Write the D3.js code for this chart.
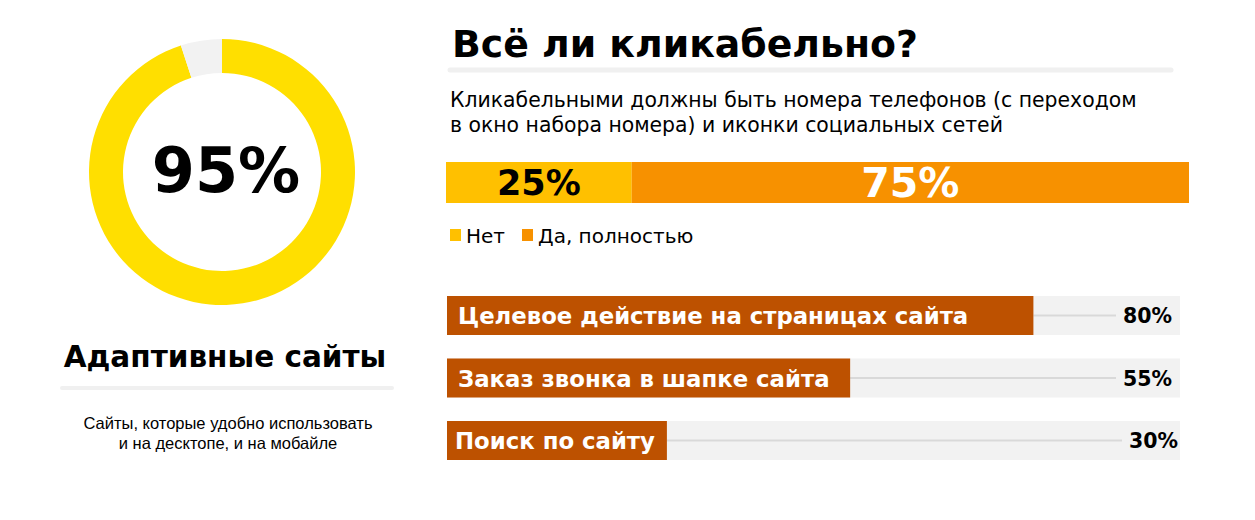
<!DOCTYPE html>
<html>
<head>
<meta charset="utf-8">
<script src="https://cdn.jsdelivr.net/npm/d3@7"></script>
<style>
  body { margin: 0; background: #fff; }
  svg text { font-family: "DejaVu Sans", sans-serif; }
</style>
</head>
<body>
<div id="chart"></div>
<script>
// data
var donutValue = 95;
var donutTitle = "Адаптивные сайты";
var donutNote = ["Сайты, которые удобно использовать", "и на десктопе, и на мобайле"];

var mainTitle = "Всё ли кликабельно?";
var subtitle = ["Кликабельными должны быть номера телефонов (с переходом", "в окно набора номера) и иконки социальных сетей"];

var stackKeys = ["Нет", "Да, полностью"];
var stackValues = [25, 75];
var stackColors = ["#ffc000", "#f79100"];
var stackTextColors = ["#000", "#fff"];
var stackFontSizes = [35, 41];

var barLabels = ["Целевое действие на страницах сайта", "Заказ звонка в шапке сайта", "Поиск по сайту"];
var barValues = [80, 55, 30];

var width = 1255, height = 520;

var svg = d3.select("#chart").append("svg")
  .attr("width", width)
  .attr("height", height);

// ---- donut ----
var cx = 222, cy = 172;
var outerR = 133, innerR = 99;

var pie = d3.pie().sort(null).value(function(d){ return d; });
var arc = d3.arc().innerRadius(innerR).outerRadius(outerR);

var donut = svg.append("g")
  .attr("transform", "translate(" + cx + "," + cy + ")");

donut.selectAll("path")
  .data(pie([donutValue, 100 - donutValue]))
  .enter().append("path")
  .attr("d", arc)
  .attr("fill", function(d, i){ return i === 0 ? "#ffdf00" : "#f2f2f2"; });

donut.append("text")
  .attr("x", 4)
  .attr("y", 20)
  .attr("text-anchor", "middle")
  .attr("font-size", 62)
  .attr("font-weight", "bold")
  .text(donutValue + "%");

svg.append("text")
  .attr("x", 225)
  .attr("y", 367)
  .attr("text-anchor", "middle")
  .attr("font-size", 29.5)
  .attr("font-weight", "bold")
  .text(donutTitle);

svg.append("line")
  .attr("x1", 62).attr("x2", 392)
  .attr("y1", 388).attr("y2", 388)
  .attr("stroke", "#f0f0f0")
  .attr("stroke-width", 4)
  .attr("stroke-linecap", "round");

svg.append("text")
  .attr("text-anchor", "middle")
  .style("font-family", "'Liberation Sans', Arial, sans-serif")
  .attr("font-size", 16.5)
  .selectAll("tspan")
  .data(donutNote)
  .enter().append("tspan")
  .attr("x", 228)
  .attr("y", function(d, i){ return 429 + i * 20; })
  .text(function(d){ return d; });

// ---- right side header ----
svg.append("text")
  .attr("x", 452)
  .attr("y", 57)
  .attr("font-size", 37.8)
  .attr("font-weight", "bold")
  .text(mainTitle);

svg.append("line")
  .attr("x1", 450).attr("x2", 1171)
  .attr("y1", 70).attr("y2", 70)
  .attr("stroke", "#f0f0f0")
  .attr("stroke-width", 5)
  .attr("stroke-linecap", "round");

svg.append("text")
  .attr("font-size", 20.4)
  .selectAll("tspan")
  .data(subtitle)
  .enter().append("tspan")
  .attr("x", 450)
  .attr("y", function(d, i){ return 107 + i * 25; })
  .text(function(d){ return d; });

// ---- stacked bar ----
var xs = d3.scaleLinear().domain([0, d3.sum(stackValues)]).range([446, 1189]);
var stackTop = 162, stackH = 41;

var cum = 0;
var stackData = stackValues.map(function(v, i){
  var d = {key: stackKeys[i], value: v, x0: cum, x1: cum + v, i: i};
  cum += v;
  return d;
});

var stack = svg.append("g").attr("class", "stack");

stack.selectAll("rect")
  .data(stackData)
  .enter().append("rect")
  .attr("x", function(d){ return xs(d.x0); })
  .attr("width", function(d){ return xs(d.x1) - xs(d.x0); })
  .attr("y", stackTop)
  .attr("height", stackH)
  .attr("fill", function(d){ return stackColors[d.i]; });

stack.selectAll("text")
  .data(stackData)
  .enter().append("text")
  .attr("x", function(d){ return (xs(d.x0) + xs(d.x1)) / 2; })
  .attr("y", function(d){ return stackTop + stackH / 2 + stackFontSizes[d.i] * 0.36; })
  .attr("text-anchor", "middle")
  .attr("font-weight", "bold")
  .attr("font-size", function(d){ return stackFontSizes[d.i]; })
  .attr("fill", function(d){ return stackTextColors[d.i]; })
  .text(function(d){ return d.value + "%"; });

// legend
var legendX = [450, 522];
var legend = svg.append("g").selectAll("g")
  .data(stackKeys)
  .enter().append("g")
  .attr("transform", function(d, i){ return "translate(" + legendX[i] + ",229)"; });

legend.append("rect")
  .attr("width", 11).attr("height", 12)
  .attr("fill", function(d, i){ return stackColors[i]; });

legend.append("text")
  .attr("x", 16)
  .attr("y", 14)
  .attr("font-size", 20)
  .text(function(d){ return d; });

// ---- horizontal bars ----
var xb = d3.scaleLinear().domain([0, 100]).range([447, 1180]);
var bandH = 39;
var step = 62.5;
var lineEnd = [1116, 1116, 1122];

var rows = svg.append("g").selectAll("g.row")
  .data(barLabels)
  .enter().append("g")
  .attr("class", "row")
  .attr("transform", function(d, i){ return "translate(0," + (296 + i * step) + ")"; });

rows.append("rect")
  .attr("x", xb(0))
  .attr("width", xb(100) - xb(0))
  .attr("height", bandH)
  .attr("fill", "#f2f2f2");

rows.append("line")
  .attr("x1", function(d, i){ return xb(barValues[i]); })
  .attr("x2", function(d, i){ return lineEnd[i]; })
  .attr("y1", bandH / 2).attr("y2", bandH / 2)
  .attr("stroke", "#d9d9d9")
  .attr("stroke-width", 2);

rows.append("rect")
  .attr("x", xb(0))
  .attr("width", function(d, i){ return xb(barValues[i]) - xb(0); })
  .attr("height", bandH)
  .attr("fill", "#bd5100");

rows.append("text")
  .attr("x", function(d, i){ return i === 2 ? 455 : 458; })
  .attr("y", 28)
  .attr("font-size", 22.8)
  .attr("font-weight", "bold")
  .attr("fill", "#fff")
  .text(function(d){ return d; });

rows.append("text")
  .attr("x", function(d, i){ return i === 2 ? 1178 : 1172; })
  .attr("y", 27)
  .attr("text-anchor", "end")
  .attr("font-size", 20.5)
  .attr("font-weight", "bold")
  .text(function(d, i){ return barValues[i] + "%"; });
</script>
</body>
</html>
